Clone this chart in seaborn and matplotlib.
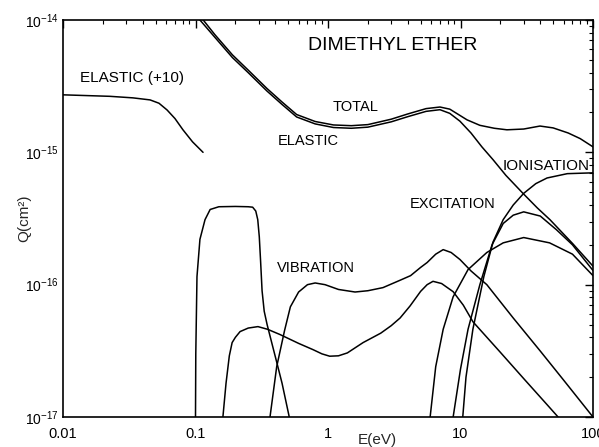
import numpy as np
import pandas as pd
import matplotlib
matplotlib.use("Agg")
import matplotlib.pyplot as plt
import seaborn as sns
from matplotlib.ticker import LogLocator, NullFormatter

# ---- data ----
elastic10_E = [0.01, 0.0226, 0.0337, 0.0454, 0.053, 0.061, 0.07, 0.0804, 0.095, 0.114]
elastic10_Q = [2.72e-15, 2.65e-15, 2.58e-15, 2.49e-15, 2.35e-15, 2.09e-15, 1.8e-15, 1.48e-15,
               1.2e-15, 1.0e-15]

elastic_E = [0.105, 0.108, 0.14, 0.19, 0.25, 0.347, 0.45, 0.58, 0.8, 1.1, 1.5, 2.0, 3.0,
             4.0, 5.5, 7.0, 8.3, 9.9, 12, 14.5, 17.6, 22, 29.6, 38, 47.3, 70, 100]
elastic_Q = [1.1e-14, 1.0e-14, 7.4e-15, 5.2e-15, 4.0e-15, 2.9e-15, 2.3e-15, 1.85e-15, 1.64e-15,
             1.54e-15, 1.52e-15, 1.55e-15, 1.7e-15, 1.86e-15, 2.04e-15, 2.1e-15, 1.97e-15,
             1.72e-15, 1.4e-15, 1.1e-15, 8.8e-16, 6.7e-16, 4.9e-16, 3.8e-16, 3.1e-16, 2.05e-16, 1.38e-16]

total_E = [0.105, 0.11, 0.14, 0.19, 0.25, 0.347, 0.45, 0.58, 0.8, 1.1, 1.5, 2.0, 3.0, 4.0, 5.5,
           7.0, 8.3, 9.5, 11.2, 14, 18, 22.4, 30, 39.8, 50, 65, 80, 100]
total_Q = [1.13e-14, 1.05e-14, 7.75e-15, 5.45e-15, 4.18e-15, 3.03e-15, 2.4e-15, 1.93e-15, 1.71e-15,
           1.61e-15, 1.59e-15, 1.62e-15, 1.78e-15, 1.95e-15, 2.14e-15, 2.2e-15, 2.12e-15, 1.95e-15,
           1.76e-15, 1.6e-15, 1.52e-15, 1.48e-15, 1.5e-15, 1.58e-15, 1.53e-15, 1.4e-15, 1.27e-15, 1.1e-15]

vib1_E = [0.1, 0.1005, 0.1026, 0.108, 0.118, 0.129, 0.15, 0.2, 0.25, 0.27, 0.285, 0.295,
          0.303, 0.31, 0.318, 0.33, 0.347, 0.38, 0.41, 0.45, 0.51]
vib1_Q = [1e-17, 3e-17, 1.15e-16, 2.2e-16, 3.1e-16, 3.7e-16, 3.88e-16, 3.9e-16, 3.88e-16,
          3.85e-16, 3.6e-16, 3.1e-16, 2.3e-16, 1.5e-16, 9e-17, 6.3e-17, 5e-17, 3.5e-17,
          2.6e-17, 1.8e-17, 1e-17]

vib2_E = [0.161, 0.17, 0.18, 0.189, 0.2, 0.217, 0.25, 0.296, 0.35, 0.434, 0.6, 0.77, 0.9, 1.03,
          1.2, 1.4, 1.84, 2.5, 3.0, 3.5, 4.16, 5.0, 5.6, 6.2, 7.2, 8.8, 10.5, 12.4, 20, 30, 45, 54.5]
vib2_Q = [1e-17, 1.8e-17, 2.9e-17, 3.65e-17, 4.0e-17, 4.42e-17, 4.7e-17, 4.82e-17, 4.6e-17,
          4.2e-17, 3.6e-17, 3.23e-17, 3.0e-17, 2.88e-17, 2.9e-17, 3.05e-17, 3.65e-17, 4.3e-17,
          4.9e-17, 5.6e-17, 6.9e-17, 8.9e-17, 1.0e-16, 1.06e-16, 1.02e-16, 8.85e-17, 7e-17,
          5.25e-17, 3.08e-17, 1.95e-17, 1.24e-17, 1.0e-17]

vib3_E = [0.365, 0.41, 0.47, 0.52, 0.6, 0.7, 0.8, 0.95, 1.2, 1.6, 2.0, 2.6, 3.5, 4.2, 5.0,
          5.6, 6.5, 7.4, 8.5, 9.9, 12, 15.8, 25, 40, 60, 100]
vib3_Q = [1e-17, 2.4e-17, 4.5e-17, 6.8e-17, 8.8e-17, 1.0e-16, 1.03e-16, 1.0e-16, 9.2e-17,
          8.8e-17, 9.0e-17, 9.5e-17, 1.08e-16, 1.17e-16, 1.35e-16, 1.47e-16, 1.7e-16, 1.84e-16,
          1.75e-16, 1.55e-16, 1.27e-16, 1.0e-16, 5.6e-17, 3.15e-17, 1.9e-17, 1e-17]

exc1_E = [5.9, 6.5, 7.4, 8.8, 11.4, 15.8, 21, 30, 47, 70, 100]
exc1_Q = [1e-17, 2.4e-17, 4.6e-17, 8.1e-17, 1.3e-16, 1.75e-16, 2.07e-16, 2.27e-16, 2.07e-16,
          1.7e-16, 1.17e-16]

exc2_E = [8.8, 10, 11.4, 14, 17.3, 21, 25, 30, 40, 53, 70, 100]
exc2_Q = [1e-17, 2.3e-17, 4.6e-17, 1.0e-16, 2.0e-16, 2.9e-16, 3.35e-16, 3.55e-16, 3.3e-16,
          2.6e-16, 2.0e-16, 1.28e-16]

ion_E = [10.4, 11, 12.4, 15, 17.6, 21, 25, 30, 37, 45, 64, 100]
ion_Q = [1e-17, 2e-17, 4.6e-17, 1.15e-16, 2.1e-16, 3.1e-16, 4.0e-16, 4.9e-16, 5.8e-16, 6.4e-16,
         6.9e-16, 7e-16]

x_ticks = [0.01, 0.1, 1, 10, 100]
x_tick_labels = ["0.01", "0.1", "1", "10", "100"]
y_ticks = [1e-17, 1e-16, 1e-15, 1e-14]
y_tick_labels = ["$10^{-17}$", "$10^{-16}$", "$10^{-15}$", "$10^{-14}$"]

curves = {
    "elastic10": (elastic10_E, elastic10_Q),
    "elastic": (elastic_E, elastic_Q),
    "total": (total_E, total_Q),
    "vib1": (vib1_E, vib1_Q),
    "vib2": (vib2_E, vib2_Q),
    "vib3": (vib3_E, vib3_Q),
    "exc1": (exc1_E, exc1_Q),
    "exc2": (exc2_E, exc2_Q),
    "ion": (ion_E, ion_Q),
}

sns.set_style("white")
plt.rcParams['font.family'] = ['Liberation Sans', 'DejaVu Sans']
plt.rcParams['mathtext.fontset'] = 'custom'
plt.rcParams['mathtext.rm'] = 'Liberation Sans'

fig = plt.figure(figsize=(5.99, 4.47), dpi=100)
ax = fig.add_axes([63 / 599, 1 - 417 / 447, 530 / 599, 397 / 447])

for name, (E, Q) in curves.items():
    df = pd.DataFrame({"E": E, "Q": Q})
    sns.lineplot(data=df, x="E", y="Q", ax=ax, color="black", linewidth=1.1,
                 estimator=None, sort=False)

ax.set_xscale("log")
ax.set_yscale("log")
ax.set_xlim(0.01, 100)
ax.set_ylim(1e-17, 1e-14)

ax.set_xticks(x_ticks)
ax.set_xticklabels(x_tick_labels)
ax.set_yticks(y_ticks)
ax.set_yticklabels(y_tick_labels)
ax.xaxis.set_minor_locator(LogLocator(base=10, subs=np.arange(2, 10), numticks=20))
ax.yaxis.set_minor_locator(LogLocator(base=10, subs=np.arange(2, 10), numticks=20))
ax.xaxis.set_minor_formatter(NullFormatter())
ax.yaxis.set_minor_formatter(NullFormatter())

ax.tick_params(which="both", direction="in", top=True, right=True, colors="black")
ax.tick_params(axis="x", which="major", labelsize=10.5, pad=7)
ax.tick_params(axis="y", which="major", labelsize=10, pad=3)
ax.tick_params(which="major", length=6, width=1.0)
ax.tick_params(which="minor", length=3, width=0.8)

for s in ax.spines.values():
    s.set_linewidth(1.2)
    s.set_color("black")

ax.set_xlabel("E(eV)", fontsize=11)
ax.xaxis.set_label_coords((377 - 63) / 530, -0.04)
ax.set_ylabel("Q(cm²)", fontsize=11)
ax.yaxis.label.set(ha="center", va="center", rotation_mode="anchor")
ax.yaxis.set_label_coords(-0.074, 0.5)

def px(xp, yp):
    return ((xp - 63) / 530, (417 - yp) / 397)

labels = [
    ("DIMETHYL ETHER", 308, 45, 14),
    ("ELASTIC (+10)", 80, 78, 11),
    ("TOTAL", 333, 107, 10.5),
    ("ELASTIC", 278, 141, 10.5),
    ("IONISATION", 503, 166, 11),
    ("EXCITATION", 410, 204, 10.5),
    ("VIBRATION", 277, 268, 10.5),
]
for txt, xp, yp, fs in labels:
    xa, ya = px(xp, yp)
    ax.text(xa, ya, txt, transform=ax.transAxes, ha="left", va="center", fontsize=fs,
            color="black")

fig.savefig("out.png", dpi=100)
